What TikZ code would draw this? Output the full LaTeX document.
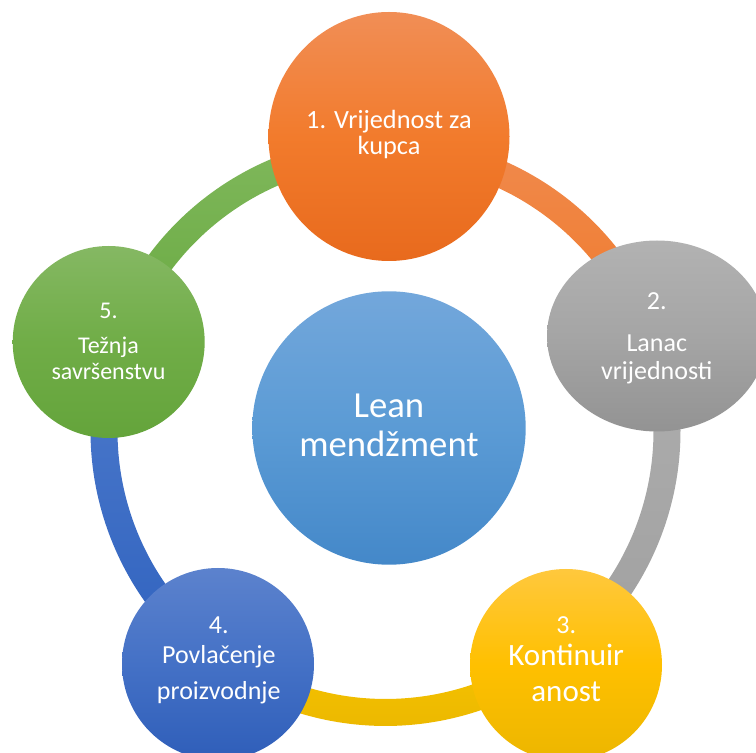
\documentclass[tikz,border=0pt]{standalone}
\usepackage{fontspec}
\setmainfont{Carlito}
\usetikzlibrary{shapes.geometric}
\definecolor{orT}{HTML}{F18E56}\definecolor{orM}{HTML}{F27B2C}\definecolor{orB}{HTML}{E86A1D}
\definecolor{grT}{HTML}{B2B2B2}\definecolor{grM}{HTML}{A5A5A5}\definecolor{grB}{HTML}{939393}
\definecolor{yeT}{HTML}{FFC83D}\definecolor{yeM}{HTML}{FFC000}\definecolor{yeB}{HTML}{ECB600}
\definecolor{blT}{HTML}{5C82CD}\definecolor{blM}{HTML}{4471C6}\definecolor{blB}{HTML}{2F5EB9}
\definecolor{gnT}{HTML}{85B863}\definecolor{gnM}{HTML}{70AD47}\definecolor{gnB}{HTML}{64A43B}
\definecolor{lbT}{HTML}{73A7DB}\definecolor{lbM}{HTML}{5B9BD5}\definecolor{lbB}{HTML}{4488C9}
\definecolor{obT}{HTML}{F08A4E}\definecolor{obB}{HTML}{F07A2A}
\definecolor{gbT}{HTML}{AEAEAE}\definecolor{gbB}{HTML}{A0A0A0}
\definecolor{ybT}{HTML}{F8C400}\definecolor{ybB}{HTML}{E9B600}
\definecolor{bbT}{HTML}{4D7ACB}\definecolor{bbB}{HTML}{2F62BF}
\definecolor{gbbT}{HTML}{80B85C}\definecolor{gbbB}{HTML}{68A940}
\newcommand\ringband[4]{%
  \shade[top color=#3, bottom color=#4, shift={(R)}]
    (#1:295) arc[start angle=#1, end angle=#2, radius=295]
    -- (#2:268) arc[start angle=#2, end angle=#1, radius=268] -- cycle;}
\begin{document}
\begin{tikzpicture}[x=1pt,y=1pt,
  disc/.style={circle, inner sep=0, minimum size=192, draw=none},
  oval/.style={ellipse, inner sep=0, draw=none},
  lbl/.style={text=white, anchor=base, inner sep=0, outer sep=0},
  fs/.style={font=\fontsize{#1}{#1}\selectfont}]
\useasboundingbox (0,0) rectangle (756,753);
\clip (0,0) rectangle (756,753);
\coordinate (R) at (385.5,322);
% ring segments
\ringband{89.3}{19.3}{obT}{obB}
\ringband{19.3}{-52.3}{gbT}{gbB}
\ringband{-52.3}{-125.7}{ybT}{ybB}
\ringband{-125.7}{-197.8}{bbT}{bbB}
\ringband{162.2}{89.3}{gbbT}{gbbB}
% circles
\node[disc, minimum size=273.4, top color=lbT, bottom color=lbB, middle color=lbM] (c0) at (389,325) {};
\node[oval, minimum width=241, minimum height=249, top color=orT, bottom color=orB, middle color=orM] (c1) at (389,616.5) {};
\node[oval, minimum width=220, minimum height=191, top color=grT, bottom color=grB, middle color=grM] (c2) at (657,417) {};
\node[disc, top color=yeT, bottom color=yeB, middle color=yeM] (c3) at (566,88) {};
\node[disc, top color=blT, bottom color=blB, middle color=blM] (c4) at (218,89) {};
\node[disc, top color=gnT, bottom color=gnB, middle color=gnM] (c5) at (108.7,411) {};
% labels
\node[lbl, fs=36.7] (t0a) at (389,335.3) {Lean};
\node[lbl, fs=36.7] (t0b) at (389,296.3) {mendžment};
\node[lbl, fs=26.3] (t1a) at (389,624.7) {1. Vrijednost za};
\node[lbl, fs=26.3] (t1b) at (389,598) {kupca};
\node[lbl, fs=26] (t2a) at (656.8,443.7) {2.};
\node[lbl, fs=26] (t2b) at (656.8,401.3) {Lanac};
\node[lbl, fs=26] (t2c) at (656.8,373) {vrijednosti};
\node[lbl, fs=26] (t3a) at (566.2,119.7) {3.};
\node[lbl, fs=31] (t3b) at (566.2,87) {Kontinuir};
\node[lbl, fs=31] (t3c) at (566.2,51.3) {anost};
\node[lbl, fs=26] (t4a) at (218.8,119.7) {4.};
\node[lbl, fs=26] (t4b) at (218.8,89) {Povlačenje};
\node[lbl, fs=26] (t4c) at (218.8,53) {proizvodnje};
\node[lbl, fs=24] (t5a) at (108.5,434.7) {5.};
\node[lbl, fs=24] (t5b) at (108.5,399.7) {Težnja};
\node[lbl, fs=24] (t5c) at (108.5,373.7) {savršenstvu};
\end{tikzpicture}
\end{document}
